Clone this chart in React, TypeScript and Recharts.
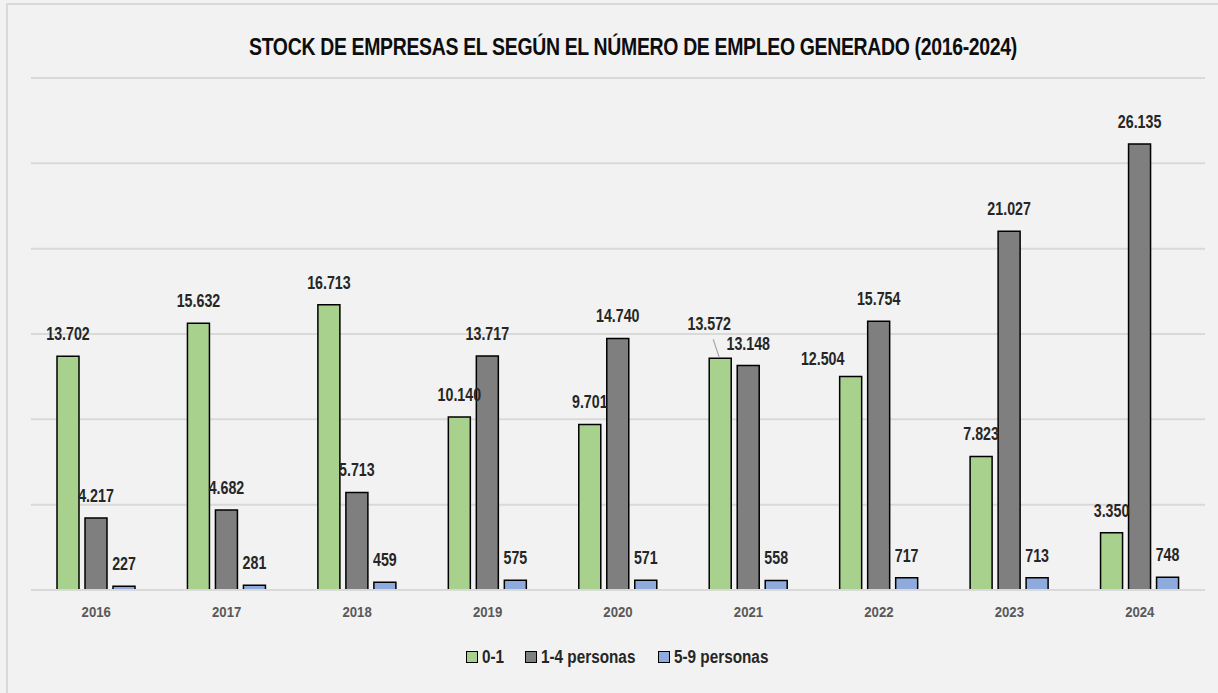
import { BarChart, Bar, XAxis, YAxis, CartesianGrid, Legend, LabelList } from "recharts";

const years = ["2016", "2017", "2018", "2019", "2020", "2021", "2022", "2023", "2024"];
const emp01 = [13702, 15632, 16713, 10140, 9701, 13572, 12504, 7823, 3350];
const emp14 = [4217, 4682, 5713, 13717, 14740, 13148, 15754, 21027, 26135];
const emp59 = [227, 281, 459, 575, 571, 558, 717, 713, 748];
const yTicks = [0, 5000, 10000, 15000, 20000, 25000, 30000];

const seriesInfo = [
  { key: "a", name: "0-1", color: "#a9d18e", textW: 22 },
  { key: "b", name: "1-4 personas", color: "#7f7f7f", textW: 96 },
  { key: "c", name: "5-9 personas", color: "#8faadc", textW: 96 },
];

const data = years.map((year, i) => ({ year, a: emp01[i], b: emp14[i], c: emp59[i] }));

// no narrow font installed, so squeeze Liberation Sans horizontally
const FONT = "'Liberation Sans', Arial, sans-serif";
const NARROW = 0.79;

function fmt(v: number) {
  return String(v).replace(/\B(?=(\d{3})+(?!\d))/g, ".");
}

// a couple of labels in the original sit off-centre to avoid overlaps
const nudges: Record<string, { dx: number; dy: number; leader?: boolean }> = {
  "a-5": { dx: -11, dy: -12, leader: true },
  "a-6": { dx: -28, dy: 4 },
};

function makeLabel(seriesKey: string) {
  return (props: any) => {
    const { x, y, width, value, index } = props;
    const cx = Number(x) + Number(width) / 2;
    const top = Number(y);
    const n = nudges[`${seriesKey}-${index}`] || { dx: 0, dy: 0 };
    return (
      <g>
        {n.leader && (
          <line x1={cx - 7} y1={top - 19} x2={cx - 1} y2={top - 1} stroke="#a6a6a6" strokeWidth={1.2} />
        )}
        <text
          transform={`translate(${cx + n.dx},${top - 16 + n.dy}) scale(${NARROW},1)`}
          textAnchor="middle"
          fontFamily={FONT}
          fontWeight="bold"
          fontSize={18}
          fill="#262626"
        >
          {fmt(value)}
        </text>
      </g>
    );
  };
}

function YearTick(props: any) {
  const { x, y, payload } = props;
  return (
    <text
      transform={`translate(${x},${Number(y) + 19}) scale(0.85,1)`}
      textAnchor="middle"
      fontFamily={FONT}
      fontWeight="bold"
      fontSize={15.5}
      fill="#595959"
    >
      {payload.value}
    </text>
  );
}

function LegendBox() {
  return (
    <div
      style={{
        display: "flex",
        justifyContent: "center",
        alignItems: "center",
        gap: 21,
        fontFamily: FONT,
        fontWeight: "bold",
        fontSize: 18,
        color: "#262626",
        height: 30,
      }}
    >
      {seriesInfo.map((s) => (
        <div key={s.key} style={{ display: "flex", alignItems: "center", gap: 4 }}>
          <span
            style={{
              display: "inline-block",
              width: 10,
              height: 10,
              background: s.color,
              border: "1.5px solid #000",
            }}
          />
          <span style={{ display: "inline-block", width: s.textW, whiteSpace: "nowrap" }}>
            <span style={{ display: "inline-block", transform: "scaleX(0.85)", transformOrigin: "left center" }}>
              {s.name}
            </span>
          </span>
        </div>
      ))}
    </div>
  );
}

export default function App() {
  return (
    <div
      style={{
        position: "fixed",
        left: 0,
        top: 0,
        width: 1218,
        height: 693,
        background: "#f2f2f2",
        overflow: "hidden",
      }}
    >
      <div
        style={{
          position: "absolute",
          left: 6,
          top: 3,
          width: 1210,
          height: 688,
          borderLeft: "2px solid #d9d9d9",
          borderTop: "2px solid #d9d9d9",
        }}
      >
        <div
          style={{
            position: "absolute",
            left: 0,
            top: 30,
            width: 1250,
            textAlign: "center",
            fontFamily: FONT,
            fontWeight: "bold",
            fontSize: 24,
            color: "#0d0d0d",
            letterSpacing: -0.4,
            lineHeight: "24px",
            whiteSpace: "nowrap",
            transform: "scaleX(0.81)",
            transformOrigin: "625px center",
          }}
        >
          STOCK DE EMPRESAS EL SEGÚN EL NÚMERO DE EMPLEO GENERADO (2016-2024)
        </div>
        <BarChart
          width={1210}
          height={688}
          data={data}
          margin={{ top: 73, right: 13, bottom: 21, left: 23 }}
          barSize={22}
          barGap={6}
        >
          <CartesianGrid vertical={false} stroke="#d9d9d9" strokeWidth={2} />
          <XAxis
            dataKey="year"
            height={52}
            tickLine={false}
            axisLine={{ stroke: "#d9d9d9", strokeWidth: 2 }}
            tick={<YearTick />}
          />
          <YAxis hide domain={[0, 30000]} ticks={yTicks} />
          <Legend verticalAlign="bottom" height={30} content={() => <LegendBox />} />
          {seriesInfo.map((s) => (
            <Bar
              key={s.key}
              dataKey={s.key}
              name={s.name}
              fill={s.color}
              stroke="#000"
              strokeWidth={1.5}
              isAnimationActive={false}
            >
              <LabelList dataKey={s.key} content={makeLabel(s.key)} />
            </Bar>
          ))}
        </BarChart>
      </div>
    </div>
  );
}
